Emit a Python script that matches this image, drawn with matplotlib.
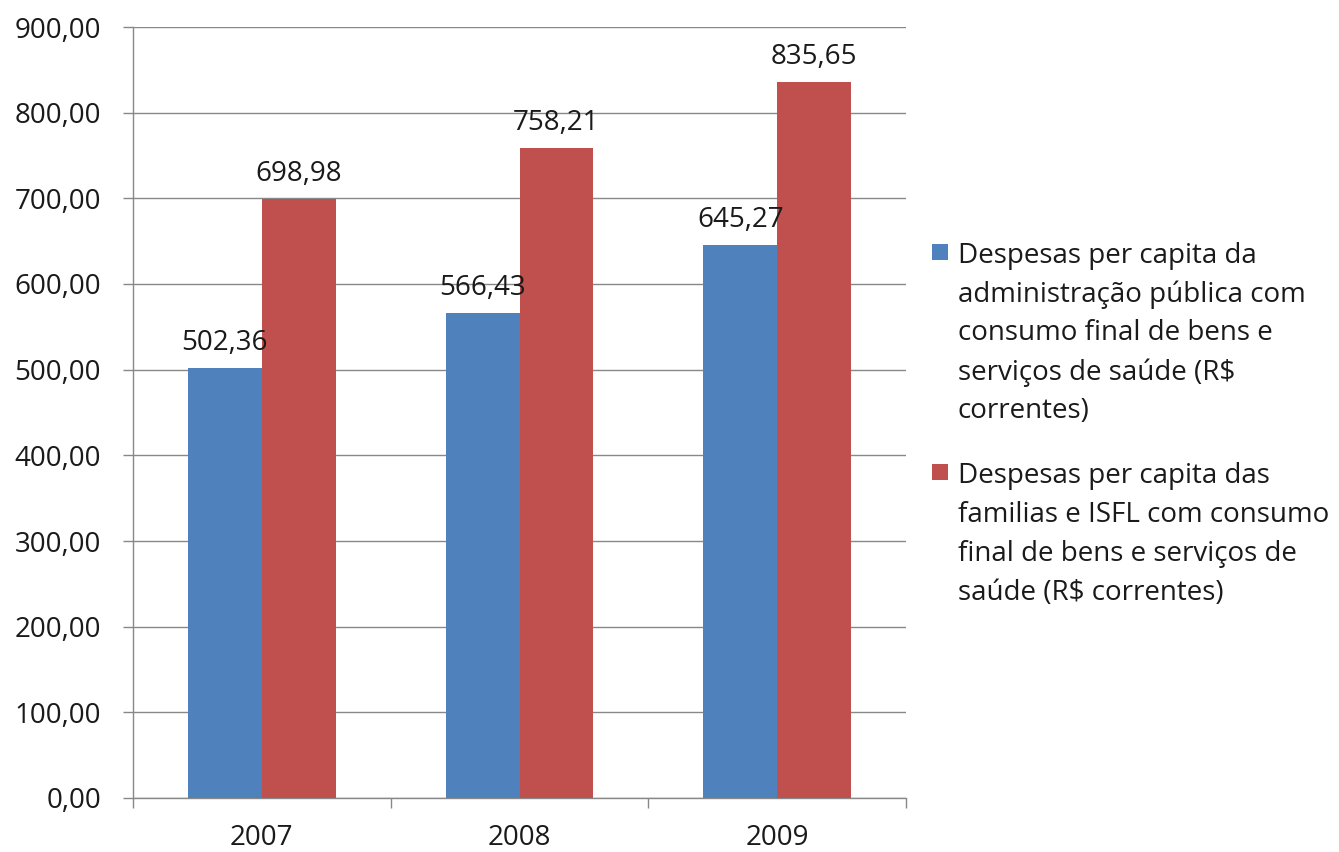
import numpy as np
import matplotlib.pyplot as plt
from matplotlib.ticker import FixedLocator
from matplotlib.patches import Rectangle

plt.rcParams['font.family'] = ['Open Sans', 'DejaVu Sans']

# dados
anos = ["2007", "2008", "2009"]
publica = [502.36, 566.43, 645.27]
familias = [698.98, 758.21, 835.65]
rotulos = [
    "Despesas per capita da\nadministração pública com\nconsumo final de bens e\nserviços de saúde (R$\ncorrentes)",
    "Despesas per capita das\nfamilias e ISFL com consumo\nfinal de bens e serviços de\nsaúde (R$ correntes)",
]
cores = ["#4F81BD", "#C0504D"]
yticks = np.arange(0, 901, 100)

W, H = 1339, 852


def fmt(v):
    return f"{v:.2f}".replace(".", ",")


fig = plt.figure(figsize=(W / 100, H / 100), dpi=100)
ax = fig.add_axes([133 / W, 54 / H, 773 / W, 771 / H])

x = np.arange(len(anos))
w = 0.287
b1 = ax.bar(x - w / 2, publica, w, color=cores[0], zorder=3)
b2 = ax.bar(x + w / 2, familias, w, color=cores[1], zorder=3)

for bars, vals in ((b1, publica), (b2, familias)):
    for r, v in zip(bars, vals):
        ax.annotate(fmt(v), (r.get_x() + r.get_width() / 2, v),
                    xytext=(0, 8), textcoords="offset points",
                    ha="center", va="bottom", fontsize=20, color="#1a1a1a")

ax.set_xlim(-0.5, len(anos) - 0.5)
ax.set_ylim(0, 900)
ax.set_yticks(yticks)
ax.set_yticklabels([fmt(v) for v in yticks])
ax.set_xticks(x)
ax.set_xticklabels(anos)
ax.xaxis.set_minor_locator(FixedLocator(np.arange(-0.5, len(anos), 1.0)))

ax.tick_params(axis="x", which="major", length=0, pad=19, labelsize=20, labelcolor="#1a1a1a")
ax.tick_params(axis="x", which="minor", length=7, color="#888888", width=1)
ax.tick_params(axis="y", length=7, color="#888888", width=1, pad=16, labelsize=20, labelcolor="#1a1a1a")

ax.grid(axis="y", color="#888888", linewidth=1, zorder=0)
for s in ["top", "right"]:
    ax.spines[s].set_visible(False)
for s in ["left", "bottom"]:
    ax.spines[s].set_color("#888888")
    ax.spines[s].set_linewidth(1)

# legenda manual (marcador alinhado com a primeira linha)
topo = [252, 472]
passo = 39
for rot, cor, y0 in zip(rotulos, cores, topo):
    fig.patches.append(Rectangle((932 / W, 1 - (y0 + 8) / H), 16 / W, 16 / H,
                                 transform=fig.transFigure, facecolor=cor,
                                 edgecolor="none"))
    for i, linha in enumerate(rot.split("\n")):
        fig.text(958 / W, 1 - (y0 + i * passo) / H, linha, fontsize=20,
                 ha="left", va="center_baseline", color="#1a1a1a")

fig.savefig("out.png", dpi=100)
